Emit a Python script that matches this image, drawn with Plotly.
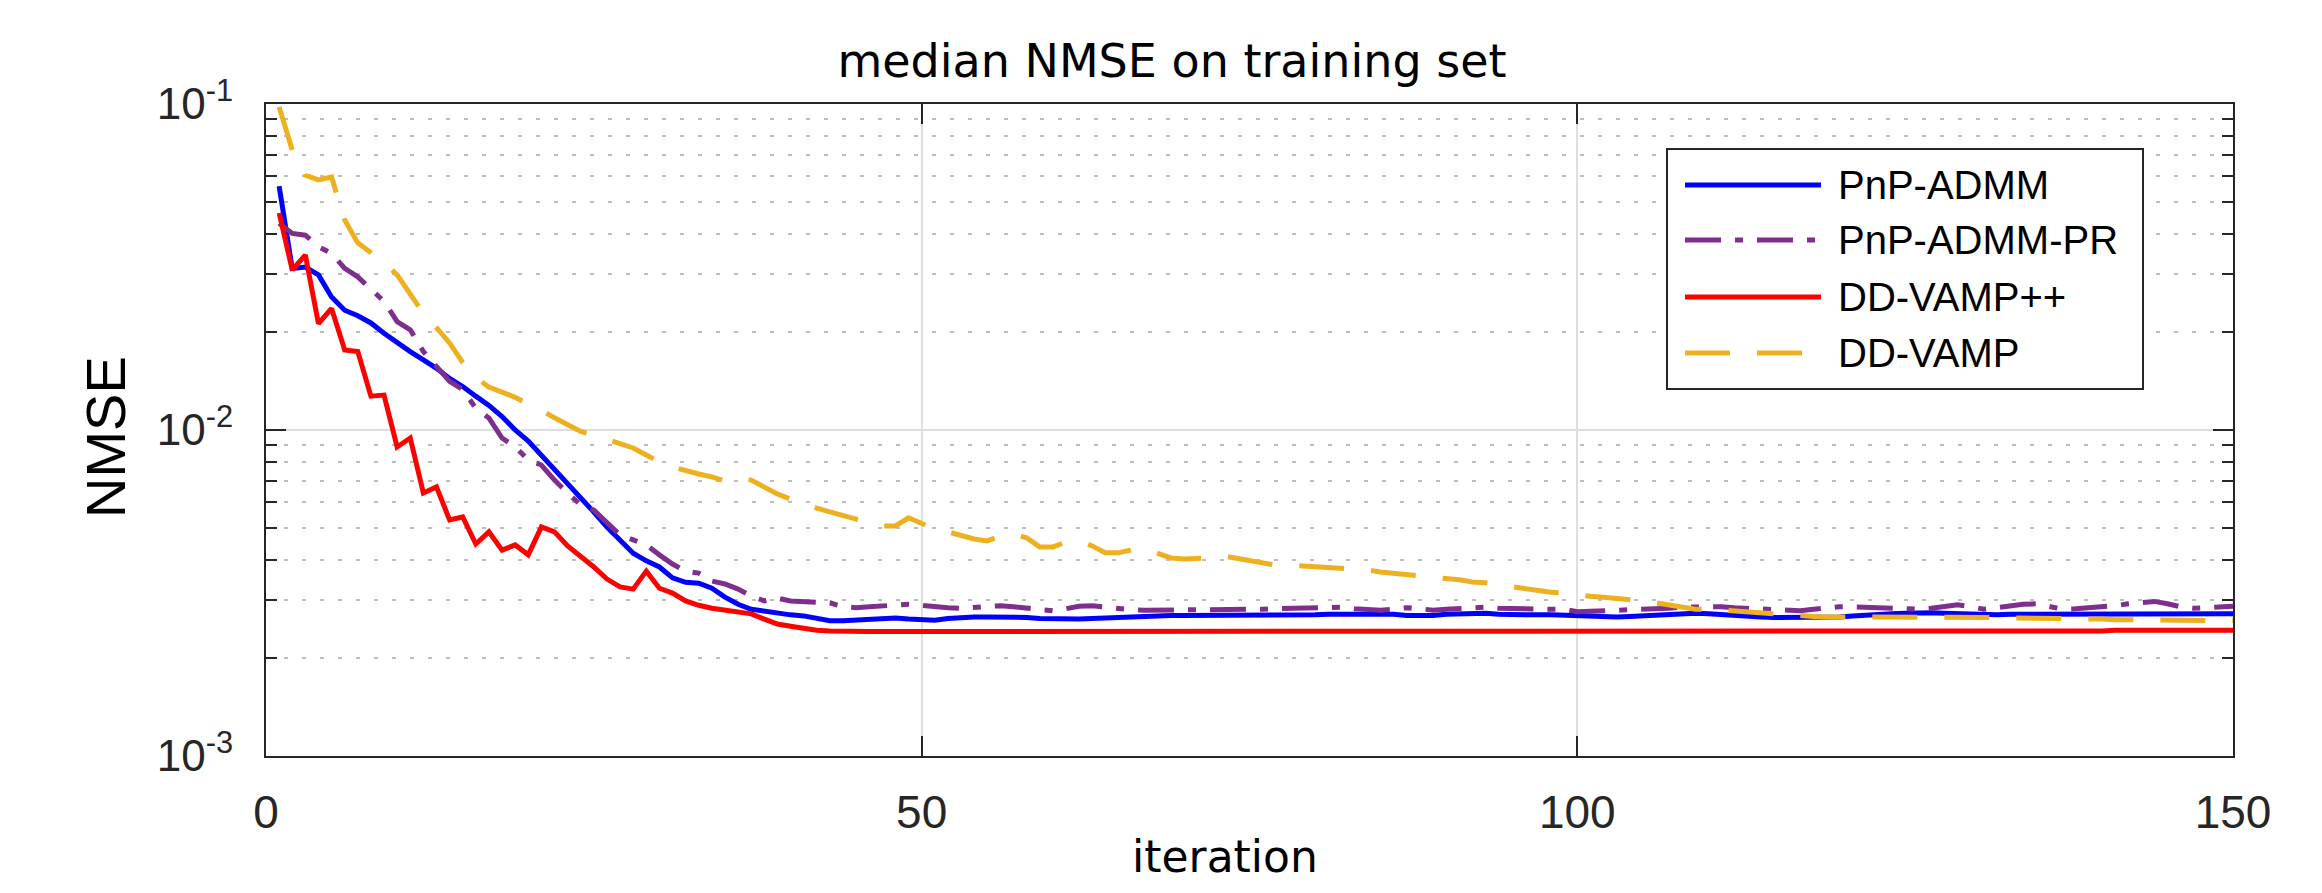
import plotly.graph_objects as go

# ---------------- data ----------------
iterations = list(range(1, 151))

pnp_admm = [
    0.0560, 0.0313, 0.0316, 0.0299, 0.0256, 0.0233, 0.0224, 0.0213, 0.0198, 0.0185,
    0.0174, 0.0164, 0.01546, 0.0144, 0.0136, 0.0127, 0.0119, 0.0110, 0.0100, 0.00925,
    0.00838, 0.00759, 0.00688, 0.00618, 0.00560, 0.00504, 0.00460, 0.00419, 0.00397, 0.00380,
    0.00352, 0.00341, 0.00339, 0.00327, 0.00307, 0.00292, 0.00282, 0.00278, 0.00275, 0.00271,
    0.00269, 0.00265, 0.00260, 0.00260, 0.00261, 0.00263, 0.00265, 0.00265, 0.00263, 0.00262,
    0.00261, 0.00264, 0.00266, 0.00267, 0.00267, 0.00267, 0.00267, 0.00266, 0.00264, 0.00263,
    0.00263, 0.00263, 0.00264, 0.00265, 0.00267, 0.00269, 0.00270, 0.00270, 0.00270, 0.00270,
    0.00270, 0.00270, 0.00270, 0.00270, 0.00269, 0.00269, 0.00269, 0.00270, 0.00270, 0.00271,
    0.00272, 0.00272, 0.00273, 0.00273, 0.00273, 0.00272, 0.00270, 0.00269, 0.00270, 0.00272,
    0.00273, 0.00274, 0.00274, 0.00272, 0.00271, 0.00270, 0.00271, 0.00271, 0.00270, 0.00268,
    0.00267, 0.00267, 0.00267, 0.00268, 0.00269, 0.00271, 0.00273, 0.00274, 0.00274, 0.00273,
    0.00271, 0.00269, 0.00268, 0.00267, 0.00266, 0.00266, 0.00266, 0.00266, 0.00266, 0.00267,
    0.00269, 0.00271, 0.00272, 0.00273, 0.00274, 0.00275, 0.00275, 0.00274, 0.00273, 0.00272,
    0.00271, 0.00271, 0.00272, 0.00272, 0.00272, 0.00273, 0.00273, 0.00273, 0.00274, 0.00274,
    0.00274, 0.00274, 0.00273, 0.00273, 0.00273, 0.00273, 0.00273, 0.00273, 0.00273, 0.00273,
]

pnp_admm_pr = [
    0.0431, 0.0401, 0.0396, 0.0365, 0.0348, 0.0313, 0.0295, 0.0272, 0.0248, 0.0215,
    0.0203, 0.0174, 0.0156, 0.0141, 0.0133, 0.01167, 0.01088, 0.00945, 0.00889, 0.00809,
    0.00781, 0.00702, 0.00641, 0.00589, 0.00568, 0.00519, 0.00476, 0.00460, 0.00444, 0.00414,
    0.00388, 0.00369, 0.00364, 0.00344, 0.00337, 0.00325, 0.00310, 0.00299, 0.00305, 0.00299,
    0.00297, 0.00297, 0.00295, 0.00287, 0.00285, 0.00287, 0.00289, 0.00290, 0.00292, 0.00290,
    0.00287, 0.00285, 0.00284, 0.00285, 0.00287, 0.00289, 0.00287, 0.00284, 0.00281, 0.00279,
    0.00283, 0.00288, 0.00289, 0.00286, 0.00282, 0.00281, 0.00280, 0.00280, 0.00281, 0.00282,
    0.00281, 0.00280, 0.00281, 0.00282, 0.00282, 0.00282, 0.00283, 0.00284, 0.00285, 0.00286,
    0.00287, 0.00286, 0.00283, 0.00281, 0.00280, 0.00282, 0.00285, 0.00283, 0.00280, 0.00282,
    0.00284, 0.00286, 0.00286, 0.00284, 0.00283, 0.00282, 0.00282, 0.00282, 0.00282, 0.00277,
    0.00278, 0.00279, 0.00279, 0.00280, 0.00280, 0.00282, 0.00284, 0.00286, 0.00287, 0.00288,
    0.00287, 0.00285, 0.00284, 0.00282, 0.00280, 0.00279, 0.00279, 0.00282, 0.00285, 0.00287,
    0.00287, 0.00286, 0.00286, 0.00285, 0.00283, 0.00282, 0.00284, 0.00288, 0.00291, 0.00287,
    0.00282, 0.00285, 0.00289, 0.00292, 0.00293, 0.00287, 0.00282, 0.00283, 0.00285, 0.00286,
    0.00289, 0.00293, 0.00296, 0.00298, 0.00293, 0.00287, 0.00284, 0.00285, 0.00287, 0.00288,
]

dd_vamp_pp = [
    0.0463, 0.0310, 0.0344, 0.0212, 0.0236, 0.0176, 0.0174, 0.0127, 0.0128, 0.00887,
    0.00945, 0.00641, 0.00669, 0.00530, 0.00541, 0.00447, 0.00487, 0.00428, 0.00444, 0.00414,
    0.00504, 0.00487, 0.00441, 0.00411, 0.00380, 0.00349, 0.00330, 0.00325, 0.00369, 0.00327,
    0.00316, 0.00299, 0.00290, 0.00284, 0.00280, 0.00277, 0.00273, 0.00263, 0.00254, 0.00250,
    0.00246, 0.00243, 0.00242, 0.00241, 0.00241, 0.00241, 0.00241, 0.00241, 0.00241, 0.00240,
    0.00240, 0.00240, 0.00240, 0.00240, 0.00240, 0.00240, 0.00240, 0.00240, 0.00240, 0.00240,
    0.00240, 0.00240, 0.00240, 0.00240, 0.00240, 0.00240, 0.00240, 0.00240, 0.00240, 0.00240,
    0.00240, 0.00240, 0.00240, 0.00240, 0.00240, 0.00240, 0.00240, 0.00240, 0.00240, 0.00240,
    0.00240, 0.00240, 0.00240, 0.00240, 0.00240, 0.00240, 0.00240, 0.00240, 0.00240, 0.00240,
    0.00240, 0.00240, 0.00240, 0.00240, 0.00240, 0.00240, 0.00240, 0.00240, 0.00240, 0.00240,
    0.00241, 0.00241, 0.00241, 0.00241, 0.00241, 0.00241, 0.00241, 0.00241, 0.00241, 0.00241,
    0.00241, 0.00241, 0.00241, 0.00241, 0.00241, 0.00241, 0.00241, 0.00241, 0.00241, 0.00241,
    0.00242, 0.00242, 0.00242, 0.00242, 0.00242, 0.00242, 0.00242, 0.00242, 0.00242, 0.00242,
    0.00242, 0.00242, 0.00242, 0.00242, 0.00242, 0.00242, 0.00242, 0.00242, 0.00242, 0.00242,
    0.00243, 0.00243, 0.00243, 0.00243, 0.00243, 0.00243, 0.00243, 0.00243, 0.00243, 0.00243,
]

dd_vamp = [
    0.0980, 0.0723, 0.0605, 0.0585, 0.0597, 0.0441, 0.0375, 0.0352, 0.0327, 0.0299,
    0.0263, 0.0228, 0.0206, 0.0185, 0.0161, 0.01445, 0.01355, 0.0131, 0.0126, 0.0120,
    0.0115, 0.0109, 0.01036, 0.00990, 0.00965, 0.00938, 0.00912, 0.00881, 0.00838, 0.00798,
    0.00770, 0.00749, 0.00733, 0.00718, 0.00698, 0.00713, 0.00702, 0.00668, 0.00636, 0.00614,
    0.00593, 0.00576, 0.00561, 0.00546, 0.00530, 0.00519, 0.00508, 0.00508, 0.00538, 0.00515,
    0.00497, 0.00487, 0.00473, 0.00463, 0.00457, 0.00473, 0.00480, 0.00467, 0.00438, 0.00438,
    0.00453, 0.00457, 0.00441, 0.00420, 0.00420, 0.00429, 0.00432, 0.00417, 0.00405, 0.00402,
    0.00402, 0.00405, 0.00411, 0.00405, 0.00399, 0.00391, 0.00385, 0.00385, 0.00383, 0.00380,
    0.00377, 0.00377, 0.00375, 0.00372, 0.00367, 0.00364, 0.00359, 0.00357, 0.00354, 0.00350,
    0.00347, 0.00342, 0.00340, 0.00335, 0.00330, 0.00325, 0.00323, 0.00318, 0.00316, 0.00312,
    0.00309, 0.00307, 0.00305, 0.00303, 0.00299, 0.00295, 0.00290, 0.00286, 0.00282, 0.00282,
    0.00280, 0.00278, 0.00276, 0.00274, 0.00272, 0.00272, 0.00270, 0.00268, 0.00267, 0.00267,
    0.00268, 0.00268, 0.00267, 0.00267, 0.00268, 0.00268, 0.00267, 0.00267, 0.00267, 0.00266,
    0.00266, 0.00266, 0.00265, 0.00265, 0.00264, 0.00264, 0.00264, 0.00263, 0.00263, 0.00263,
    0.00262, 0.00262, 0.00262, 0.00261, 0.00261, 0.00261, 0.00261, 0.00260, 0.00260, 0.00260,
]

series_names = ["PnP-ADMM", "PnP-ADMM-PR", "DD-VAMP++", "DD-VAMP"]
series_values = [pnp_admm, pnp_admm_pr, dd_vamp_pp, dd_vamp]
series_colors = ["#0000FF", "#7E2F8E", "#FF0000", "#EDB120"]
series_dash = ["solid", "36px,14px,8px,14px", "solid", "45px,27px"]

x_tickvals = [0, 50, 100, 150]
y_tickvals = [1e-3, 1e-2, 1e-1]
y_ticktext = ["10<sup>-3</sup>", "10<sup>-2</sup>", "10<sup>-1</sup>"]
y_minorvals = [2e-3, 3e-3, 4e-3, 5e-3, 6e-3, 7e-3, 8e-3, 9e-3,
               2e-2, 3e-2, 4e-2, 5e-2, 6e-2, 7e-2, 8e-2, 9e-2]

title_text = "median NMSE on training set"
x_label = "iteration"
y_label = "NMSE"

# ---------------- layout geometry ----------------
W, H = 2322, 893
L, R, T, B = 266, 2233, 104, 756   # plot area in pixels
PW, PH = R - L, B - T


def px(x):
    return (x - L) / PW


def py(y):
    return (B - y) / PH


AX = "#262626"
fig = go.Figure()
for name, vals, col, dash in zip(series_names, series_values, series_colors, series_dash):
    fig.add_trace(go.Scatter(
        x=iterations, y=vals, mode="lines", name=name,
        line=dict(color=col, width=5, dash=dash),
        showlegend=False,
    ))

fig.update_layout(
    width=W, height=H,
    margin=dict(l=L, r=W - R, t=T, b=H - B, pad=0),
    paper_bgcolor="white", plot_bgcolor="white",
    font=dict(family="Liberation Sans, Arial, sans-serif", color=AX, size=42),
    title=dict(text=title_text, x=1172 / W, xref="container", xanchor="center",
               y=1 - 61 / H, yref="container", yanchor="middle",
               font=dict(family="DejaVu Sans, sans-serif", size=46, color="black")),
)

fig.update_xaxes(
    range=[0, 150], tickvals=x_tickvals, ticks="inside", ticklen=20, tickwidth=2,
    tickcolor=AX, showline=True, linecolor=AX, linewidth=2, mirror="allticks",
    showgrid=True, gridcolor="#DEDEDE", gridwidth=2, zeroline=False,
    tickfont=dict(size=46, color=AX), ticklabelstandoff=15,
)
fig.update_yaxes(
    type="log", range=[-3, -1], tickvals=y_tickvals, ticktext=y_ticktext,
    ticks="inside", ticklen=20, tickwidth=2, tickcolor=AX,
    showline=True, linecolor=AX, linewidth=2, mirror="allticks",
    showgrid=True, gridcolor="#DEDEDE", gridwidth=2, zeroline=False,
    tickfont=dict(size=44, color=AX), ticklabelstandoff=22,
    minor=dict(tickmode="array", tickvals=y_minorvals, ticks="inside", ticklen=11,
               tickwidth=2, tickcolor=AX, showgrid=True, gridcolor="#BDBDBD",
               gridwidth=2, griddash="4px,14px"),
)

annotations = [
    dict(text=x_label, x=px(1225), y=py(857), xref="paper", yref="paper",
         xanchor="center", yanchor="middle", showarrow=False,
         font=dict(family="DejaVu Sans, sans-serif", size=44, color="black")),
    dict(text=y_label, x=px(105), y=py(437), xref="paper", yref="paper",
         xanchor="center", yanchor="middle", showarrow=False, textangle=-90,
         font=dict(family="Liberation Sans Narrow, Liberation Sans, Arial, sans-serif",
                   size=56, color="black")),
]

# legend drawn as a boxed key
shapes = [dict(type="rect", xref="paper", yref="paper",
               x0=px(1667), x1=px(2143), y0=py(389), y1=py(149),
               line=dict(color=AX, width=2), fillcolor="white", layer="above")]
rows = [185, 240, 297, 353]
for name, col, dash, ry in zip(series_names, series_colors, series_dash, rows):
    shapes.append(dict(type="line", xref="paper", yref="paper",
                       x0=px(1685), x1=px(1821), y0=py(ry), y1=py(ry),
                       line=dict(color=col, width=5, dash=dash), layer="above"))
    annotations.append(dict(text=name, x=px(1836), y=py(ry), xref="paper", yref="paper",
                            xanchor="left", yanchor="middle", showarrow=False,
                            font=dict(family="Liberation Sans, Arial, sans-serif",
                                      size=40, color="black")))

fig.update_layout(shapes=shapes, annotations=annotations)
fig.write_html("out.html", config={"displayModeBar": False},
               post_script="document.body.style.margin='0px';document.body.style.overflow='hidden';")
